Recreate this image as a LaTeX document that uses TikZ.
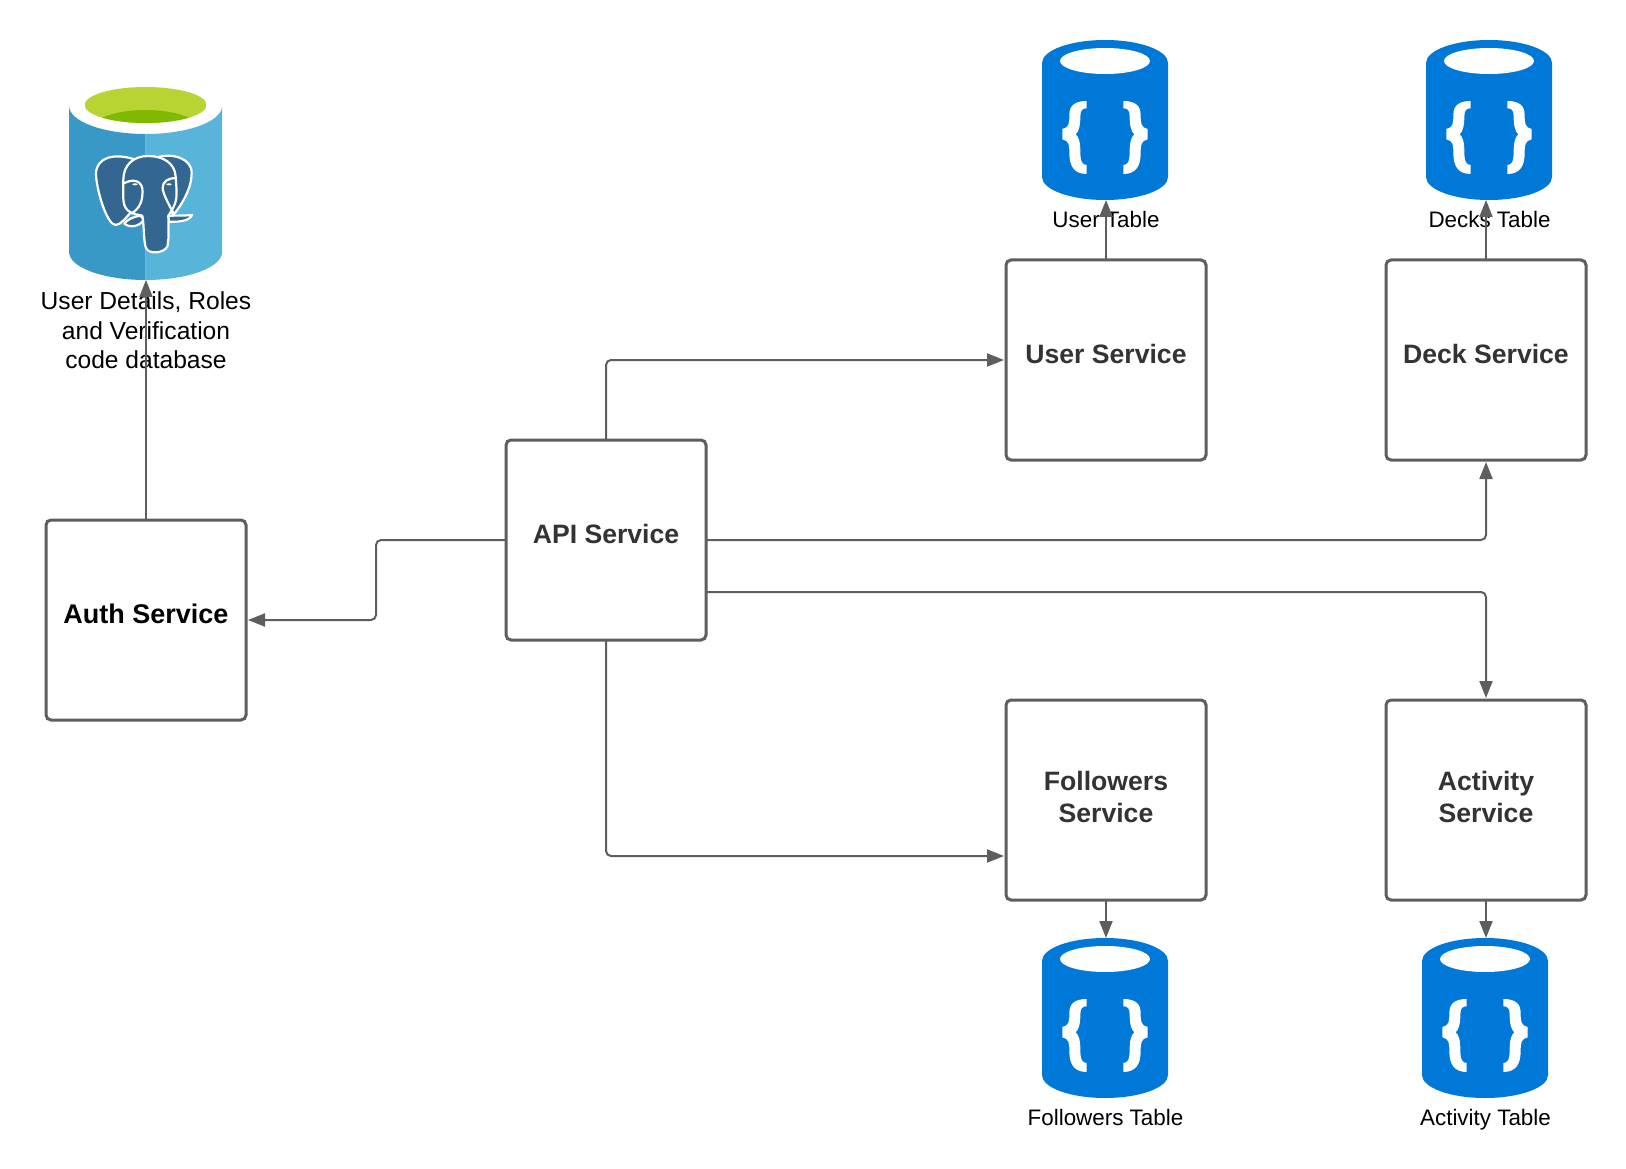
\documentclass[tikz,border=0pt]{standalone}
\usepackage{fontspec}
\setmainfont{Liberation Sans}
\usetikzlibrary{arrows.meta,calc}
\definecolor{linegray}{HTML}{5E5E5E}
\definecolor{boxtext}{HTML}{333333}
\definecolor{azureblue}{HTML}{0078D7}
\definecolor{pgleft}{HTML}{3999C6}
\definecolor{pgright}{HTML}{59B4D9}
\definecolor{pgdark}{HTML}{336791}
\definecolor{limelight}{HTML}{B8D432}
\definecolor{limedark}{HTML}{7FBA00}
\tikzset{
  svcbox/.style={draw=linegray,line width=3pt,rounded corners=5pt,fill=white,minimum width=200pt,minimum height=200pt,outer sep=0pt,inner sep=0pt},
  svclabel/.style={font=\fontsize{26.6}{32}\selectfont\bfseries,text=boxtext,align=center,inner sep=0pt},
  dblabel/.style={font=\fontsize{22.4}{29}\selectfont,text=black,align=center,inner sep=0pt},
  pglabel/.style={font=\fontsize{24.6}{29.3}\selectfont,text=black,align=center,inner sep=0pt},
  dbshape/.style={minimum width=126pt,minimum height=160pt,inner sep=0pt,outer sep=0pt},
  link/.style={draw=linegray,line width=2pt,rounded corners=5pt,-{Triangle[length=17pt,width=13pt]}},
}
\newcommand{\bracepath}{
  \fill[white] (95,18) .. controls (58,18) and (43,33) .. (43,60)
   .. controls (43,85) and (42,98) .. (22,102) -- (22,133)
   .. controls (42,137) and (43,150) .. (43,175)
   .. controls (43,214) and (58,237) .. (95,237) -- (95,210)
   .. controls (82,210) and (76,200) .. (76,170)
   .. controls (76,145) and (72,125) .. (62,118)
   .. controls (72,110) and (76,90) .. (76,65)
   .. controls (76,45) and (82,40) .. (95,40) -- cycle;
}
\newcommand{\docdb}[1]{
  \fill[azureblue] ($(#1.center)+(-63,-57)$) arc[start angle=180,end angle=0,x radius=63,y radius=-23]
    -- ($(#1.center)+(63,57)$) arc[start angle=0,end angle=-180,x radius=63,y radius=-23] -- cycle;
  \fill[white] ($(#1.center)+(0,-59)$) ellipse[x radius=45,y radius=13];
  \begin{scope}[shift={(#1.center)},x=0.3333pt,y=-0.3333pt,shift={(-150,-75)}]
    \bracepath
  \end{scope}
  \begin{scope}[shift={(#1.center)},x=-0.3333pt,y=-0.3333pt,shift={(-150,-75)}]
    \bracepath
  \end{scope}
}
\begin{document}
\begin{tikzpicture}[x=1pt,y=-1pt]
\useasboundingbox (0,0) rectangle (1626,1169);
\fill[white] (0,0) rectangle (1626,1169);
% service boxes
\node[svcbox] (auth) at (146,620) {};
\node[svcbox] (api) at (606,540) {};
\node[svcbox] (user) at (1106,360) {};
\node[svcbox] (deck) at (1486,360) {};
\node[svcbox] (foll) at (1106,800) {};
\node[svcbox] (acti) at (1486,800) {};
\node[svclabel,text=black,font=\fontsize{27}{32}\selectfont\bfseries] (authl) at (146,613.5) {Auth Service};
\node[svclabel] (apil) at (606,533.5) {API Service};
\node[svclabel] (userl) at (1106,353.5) {User Service};
\node[svclabel] (deckl) at (1486,353.5) {Deck Service};
\node[svclabel] (folll) at (1106,796.5) {Followers\\Service};
\node[svclabel] (actil) at (1486,796.5) {Activity\\Service};
% database icons
\node[dbshape] (usertbl) at (1105,120) {};
\node[dbshape] (decktbl) at (1489,120) {};
\node[dbshape] (folltbl) at (1105,1018) {};
\node[dbshape] (actitbl) at (1485,1018) {};
\docdb{usertbl}\docdb{decktbl}\docdb{folltbl}\docdb{actitbl}
\node[dblabel] (usertxt) at (1106,219) {User Table};
\node[dblabel] (decktxt) at (1489.5,219) {Decks Table};
\node[dblabel] (folltxt) at (1105.5,1117) {Followers Table};
\node[dblabel] (actitxt) at (1485.5,1120) {Activity Table};
% postgres icon
\node[minimum width=153pt,minimum height=193pt,inner sep=0pt,outer sep=0pt] (pg) at (146,183.5) {};
\begin{scope}[shift={(145.6,0)}]
  \fill[pgleft] (-76.5,106) arc[start angle=180,end angle=270,x radius=76.5,y radius=-28]
     -- (0,280) arc[start angle=-90,end angle=-180,x radius=76.5,y radius=-28] -- cycle;
  \fill[pgright] (76.5,106) arc[start angle=0,end angle=-90,x radius=76.5,y radius=-28]
     -- (0,280) arc[start angle=-90,end angle=0,x radius=76.5,y radius=-28] -- cycle;
  \begin{scope}
    \clip (0,105) ellipse[x radius=61,y radius=18];
    \fill[limelight] (-61,80) rectangle (61,125);
    \fill[limedark] (0,130) ellipse[x radius=55,y radius=20];
  \end{scope}
\end{scope}
\begin{scope}[shift={(85,145)},x=0.3333pt,y=-0.3333pt,
  every path/.append style={draw=white,line width=2.2pt,line join=round,line cap=round}]
  % ears
  \filldraw[fill=pgdark] (145,42) .. controls (90,25) and (35,35) .. (33,85)
     .. controls (33,130) and (65,240) .. (92,240) .. controls (108,240) and (125,215) .. (135,205) -- (160,120) -- cycle;
  \filldraw[fill=pgdark] (215,38) .. controls (260,22) and (322,40) .. (320,85)
     .. controls (320,130) and (290,180) .. (265,210) -- (220,120) -- cycle;
  % tusks
  \filldraw[fill=pgdark] (165,212) .. controls (145,215) and (125,225) .. (118,236)
     .. controls (135,250) and (165,245) .. (178,222) -- cycle;
  \filldraw[fill=pgdark] (250,212) .. controls (270,212) and (305,212) .. (322,210)
     .. controls (315,225) and (290,232) .. (252,230) -- cycle;
  % head and trunk
  \filldraw[fill=pgdark] (190,33) .. controls (145,33) and (115,60) .. (115,105)
     .. controls (115,130) and (112,170) .. (120,185)
     .. controls (130,205) and (150,208) .. (172,212)
     .. controls (178,240) and (175,300) .. (185,312)
     .. controls (195,328) and (235,325) .. (247,305)
     .. controls (253,280) and (250,240) .. (250,212)
     .. controls (258,200) and (272,180) .. (274,160)
     .. controls (276,130) and (272,100) .. (272,95)
     .. controls (270,55) and (235,33) .. (190,33) -- cycle;
  % eyes
  \draw (117,115) .. controls (135,105) and (165,100) .. (172,130)
     .. controls (175,165) and (165,190) .. (140,205);
  \draw (272,100) .. controls (250,98) and (232,110) .. (233,130)
     .. controls (235,150) and (255,185) .. (266,205);
  \fill[white,draw=none] (150,118) ellipse[x radius=8,y radius=3];
  \fill[white,draw=none] (252,118) ellipse[x radius=8,y radius=3];
\end{scope}
\node[pglabel] (pgtxt) at (146,330.3) {User Details, Roles\\and Verification\\code database};
% connectors
\coordinate (apilow) at ($(api.east)+(0,52)$);
\draw[link] (auth.north) -- (pg.south);
\draw[link] (api.west) -- ++(-130,0) |- ($(auth.east)+(2,0)$);
\draw[link] (api.north) |- ($(user.west)+(-2,0)$);
\draw[link] (api.east) -| ($(deck.south)+(0,2)$);
\draw[link] (apilow) -| ($(acti.north)+(0,-2)$);
\draw[link] (api.south) |- ($(foll.west)+(-2,56)$);
\draw[link] (user.north) -- (user.north |- usertbl.south);
\draw[link] (deck.north) -- (deck.north |- decktbl.south);
\draw[link] (foll.south) -- (foll.south |- folltbl.north);
\draw[link] (acti.south) -- (acti.south |- actitbl.north);
\end{tikzpicture}
\end{document}
